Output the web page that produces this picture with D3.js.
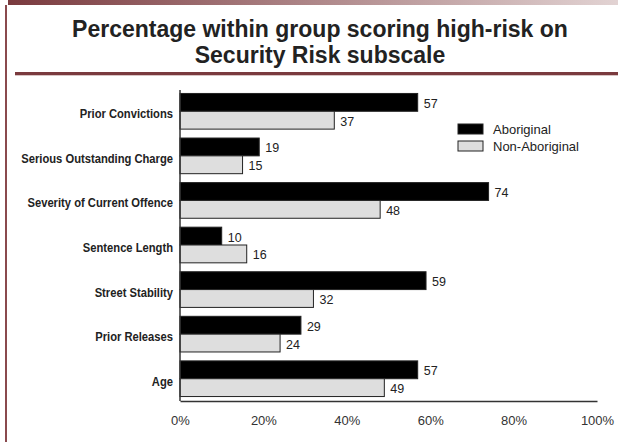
<!DOCTYPE html>
<html>
<head>
<meta charset="utf-8">
<script src="https://cdn.jsdelivr.net/npm/d3@7"></script>
<style>
  body { margin: 0; background: #fff; }
  svg { display: block; font-family: "Liberation Sans", Arial, sans-serif; }
</style>
</head>
<body>
<svg id="chart" width="618" height="442"></svg>
<script>
"use strict";

let categories = [
  "Prior Convictions",
  "Serious Outstanding Charge",
  "Severity of Current Offence",
  "Sentence Length",
  "Street Stability",
  "Prior Releases",
  "Age"
];
let aboriginal = [57, 19, 74, 10, 59, 29, 57];
let nonAboriginal = [37, 15, 48, 16, 32, 24, 49];
let seriesNames = ["Aboriginal", "Non-Aboriginal"];
let tickValues = [0, 20, 40, 60, 80, 100];

let svg = d3.select("#chart");

// header band and frame
let grad = svg.append("defs").append("linearGradient").attr("id", "band");
grad.append("stop").attr("offset", "0%").attr("stop-color", "#7a3a3e");
grad.append("stop").attr("offset", "100%").attr("stop-color", "#e2d3d3");
svg.append("rect").attr("x", 8).attr("y", 0).attr("width", 610).attr("height", 5).attr("fill", "url(#band)");
svg.append("rect").attr("x", 5).attr("y", 5).attr("width", 2).attr("height", 437).attr("fill", "#8a4a4e");
svg.append("rect").attr("x", 15).attr("y", 72).attr("width", 603).attr("height", 3).attr("fill", "#7a3a3e");
svg.append("rect").attr("x", 15).attr("y", 75).attr("width", 603).attr("height", 1).attr("fill", "#d8c4c4");

let title = svg.append("text")
  .attr("text-anchor", "middle")
  .attr("font-weight", "bold")
  .attr("font-size", "23px")
  .attr("fill", "#222");
title.append("tspan").attr("x", 320).attr("y", 37).text("Percentage within group scoring high-risk on");
title.append("tspan").attr("x", 320).attr("y", 62.5).text("Security Risk subscale");

let x = d3.scaleLinear().domain([0, 100]).range([180, 597]);
let y = d3.scaleBand().domain(categories).range([89, 401]).paddingInner(0.2).paddingOuter(0.1);
let sub = d3.scaleBand().domain(seriesNames).range([0, y.bandwidth()]);
let fills = { "Aboriginal": "#000", "Non-Aboriginal": "#dedede" };

let rows = categories.map((c, i) => ({
  cat: c,
  vals: [
    { s: "Aboriginal", v: aboriginal[i] },
    { s: "Non-Aboriginal", v: nonAboriginal[i] }
  ]
}));

let g = svg.selectAll("g.row").data(rows).enter().append("g")
  .attr("class", "row")
  .attr("transform", d => `translate(0,${y(d.cat)})`);

g.selectAll("rect").data(d => d.vals).enter().append("rect")
  .attr("x", x(0))
  .attr("y", d => sub(d.s))
  .attr("width", d => x(d.v) - x(0))
  .attr("height", sub.bandwidth())
  .attr("fill", d => fills[d.s])
  .attr("stroke", "#222")
  .attr("stroke-width", 1);

g.selectAll("text.val").data(d => d.vals).enter().append("text")
  .attr("class", "val")
  .attr("x", d => x(d.v) + 6)
  .attr("y", d => sub(d.s) + sub.bandwidth() / 2 + 5.5)
  .attr("font-size", "12.5px")
  .attr("fill", "#222")
  .text(d => d.v);

// condensed bold category labels
g.append("text")
  .attr("transform", `translate(173,${y.bandwidth() / 2 + 7}) scale(0.83,1)`)
  .attr("text-anchor", "end")
  .attr("font-weight", "bold")
  .attr("font-size", "13.5px")
  .attr("fill", "#222")
  .text(d => d.cat);

// axes
let xAxis = svg.append("g")
  .attr("transform", "translate(0,401)")
  .call(d3.axisBottom(x).tickValues(tickValues).tickSize(0).tickPadding(15).tickFormat(d => d + "%"));
xAxis.select(".domain").attr("stroke", "#333").attr("stroke-width", 1.5);
xAxis.selectAll("text").attr("font-size", "13px").attr("fill", "#333")
  .attr("font-family", "'Liberation Sans', Arial, sans-serif");

svg.append("line")
  .attr("x1", x(0)).attr("x2", x(0))
  .attr("y1", 90).attr("y2", 401)
  .attr("stroke", "#333").attr("stroke-width", 1.5);

// legend
let leg = svg.selectAll("g.leg").data(seriesNames).enter().append("g")
  .attr("class", "leg")
  .attr("transform", (d, i) => `translate(458,${124 + i * 17})`);
leg.append("rect")
  .attr("width", 25).attr("height", 10)
  .attr("fill", d => fills[d])
  .attr("stroke", "#222").attr("stroke-width", 1);
leg.append("text")
  .attr("x", 35).attr("y", 10)
  .attr("font-size", "13px")
  .attr("fill", "#222")
  .text(d => d);
</script>
</body>
</html>
